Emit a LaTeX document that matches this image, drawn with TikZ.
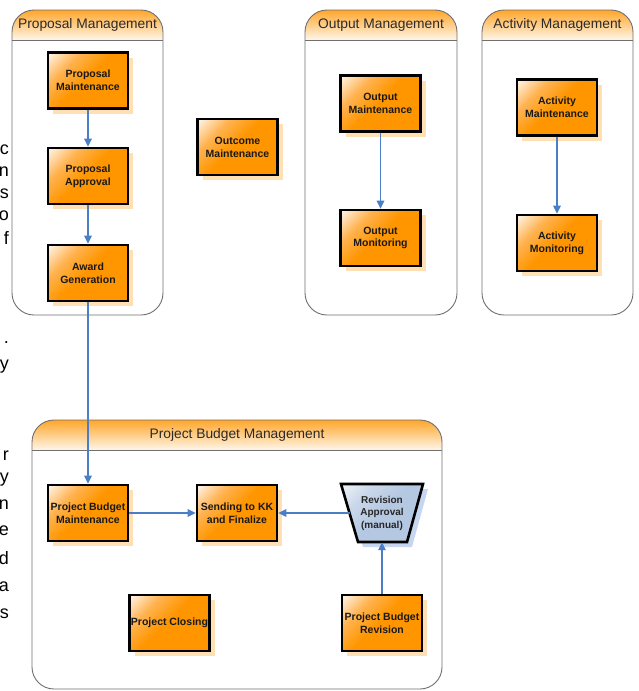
\documentclass[tikz,border=0pt]{standalone}
\usepackage{fontspec}
\setmainfont{Liberation Sans}
\usetikzlibrary{arrows.meta,shadows}

\definecolor{boxOr}{HTML}{FF9600}
\definecolor{boxMid}{HTML}{FFB24E}
\definecolor{boxLight}{HTML}{FFF0E0}
\definecolor{shOr}{HTML}{FFDFB4}
\definecolor{arrowBlue}{HTML}{4A7EC7}
\definecolor{hdrTop}{HTML}{FFA62A}
\definecolor{hdrBot}{HTML}{FFF6EA}
\definecolor{frameGray}{HTML}{707070}
\definecolor{raBlue}{HTML}{B4C8E2}
\definecolor{raMid}{HTML}{C9D7EA}
\definecolor{raLight}{HTML}{EEF2F8}
\definecolor{shBlue}{HTML}{C6D6F0}
\definecolor{titleGray}{HTML}{2A2A2A}

\pgfdeclareverticalshading{boxfill}{100bp}{color(0bp)=(boxOr); color(52bp)=(boxOr); color(68bp)=(boxMid); color(84bp)=(boxLight); color(100bp)=(boxLight)}
\pgfdeclareverticalshading{rafill}{100bp}{color(0bp)=(raBlue); color(50bp)=(raBlue); color(68bp)=(raMid); color(84bp)=(raLight); color(100bp)=(raLight)}

\tikzset{
  procbox/.style={draw=black, line width=2.6pt, minimum width=80pt, minimum height=56pt,
    inner sep=1pt, align=center, font=\fontsize{10.5}{12.8}\selectfont\bfseries, text=black!90,
    shade, shading=boxfill, shading angle=45,
    drop shadow={shadow xshift=5pt, shadow yshift=-5pt, fill=shOr, opacity=1}},
  conn/.style={draw=arrowBlue, line width=1.4pt, -{Triangle[length=8pt,width=7.5pt]}},
  lanetitle/.style={font=\fontsize{13.8}{15}\selectfont, text=titleGray, inner sep=0pt},
  ratext/.style={align=center, font=\fontsize{10}{12.5}\selectfont\bfseries, text=black!85,
    minimum width=49pt, minimum height=58pt, inner sep=0pt},
  frag/.style={font=\fontsize{18}{18}\selectfont, anchor=east, inner sep=0pt, text=black}
}

\newcommand{\lanebox}[6]{%
  \begin{scope}
    \clip[rounded corners=22pt] (#1,#2) rectangle (#3,#4);
    \shade[top color=hdrTop, bottom color=hdrBot] (#1,#2) rectangle (#3,#2+30);
  \end{scope}
  \draw[frameGray, line width=0.9pt, rounded corners=22pt] (#1,#2) rectangle (#3,#4);
  \draw[frameGray, line width=0.9pt] (#1,#2+30) -- (#3,#2+30);
  \node[lanetitle] (#5) at ({(#1+#3)/2},#2+15) {#6};
}

\begin{document}
\begin{tikzpicture}[x=1pt,y=-1pt]
\useasboundingbox (0,0) rectangle (639,691);
\fill[white] (0,0) rectangle (639,691);

% swimlanes
\lanebox{12}{10}{163}{315}{laneP}{Proposal Management}
\lanebox{305}{10}{457}{315}{laneO}{Output Management}
\lanebox{482}{10}{633}{315}{laneA}{Activity Management}
\lanebox{32}{420}{442}{689}{laneB}{Project Budget Management}

% process boxes
\node[procbox] (pm) at (88,80.5) {Proposal\\Maintenance};
\node[procbox] (pa) at (88,176) {Proposal\\Approval};
\node[procbox] (ag) at (88,273) {Award\\Generation};
\node[procbox] (om) at (237.5,147) {Outcome\\Maintenance};
\node[procbox] (outm) at (380.5,103.5) {Output\\Maintenance};
\node[procbox] (outmon) at (380.5,238) {Output\\Monitoring};
\node[procbox] (am) at (557,107.5) {Activity\\Maintenance};
\node[procbox] (amon) at (557,243) {Activity\\Monitoring};
\node[procbox] (pbm) at (88,513) {Project Budget\\Maintenance};
\node[procbox] (skk) at (237,513) {Sending to KK\\and Finalize};
\node[procbox] (pc) at (169.5,623) {Project Closing};
\node[procbox] (pbr) at (382,623) {Project Budget\\Revision};

% revision approval (manual operation trapezoid)
\fill[shBlue] (346,489) -- (428,489) -- (412,547) -- (363,547) -- cycle;
\shade[shading=rafill, shading angle=45] (341,484) -- (423,484) -- (407,542) -- (358,542) -- cycle;
\draw[black, line width=2.6pt, line join=miter] (341,484) -- (423,484) -- (407,542) -- (358,542) -- cycle;
\node[ratext] (ra) at (382,513) {Revision\\Approval\\(manual)};
\coordinate (raW) at (349.5,513);

% connectors
\draw[conn] (pm.south) -- (pa.north);
\draw[conn] (pa.south) -- (ag.north);
\draw[conn] (ag.south) -- (pbm.north);
\draw[conn] (outm.south) -- (outmon.north);
\draw[conn] (am.south) -- (amon.north);
\draw[conn] (pbm.east) -- (skk.west);
\draw[conn] (raW) -- (skk.east);
\draw[conn] (pbr.north) -- (ra.south);

% clipped text fragments at the left edge
\node[frag] (f1) at (9,150) {c};
\node[frag] (f2) at (9,172) {n};
\node[frag] (f3) at (9,194) {s};
\node[frag] (f4) at (9,216) {o};
\node[frag] (f5) at (9,238) {f};
\node[frag] (f6) at (9,343) {.};
\node[frag] (f7) at (9,367) {y};
\node[frag] (f8) at (9,456) {r};
\node[frag] (f9) at (9,480) {y};
\node[frag] (f10) at (9,505) {n};
\node[frag] (f11) at (9,531) {e};
\node[frag] (f12) at (9,558) {d};
\node[frag] (f13) at (9,587) {a};
\node[frag] (f14) at (9,614) {s};
\end{tikzpicture}
\end{document}
